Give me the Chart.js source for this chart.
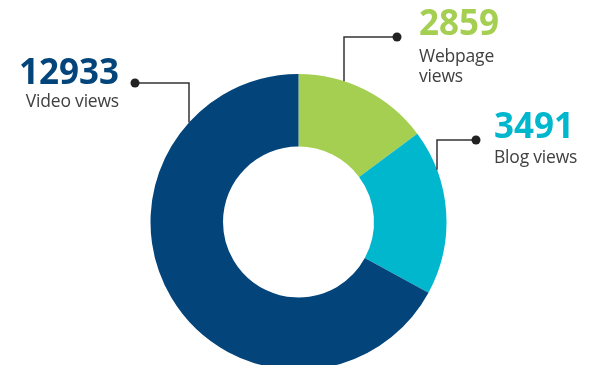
<!DOCTYPE html>
<html>
<head>
<meta charset="utf-8">
<script src="https://cdn.jsdelivr.net/npm/chart.js@4"></script>
<style>
  html, body { margin: 0; padding: 0; background: #fff; overflow: hidden; }
  #wrap { position: relative; width: 597px; height: 380px; }
  .lbl { position: absolute; font-family: "Open Sans", sans-serif; color: #404040; white-space: nowrap; }
  .num { font-weight: 700; font-size: 35px; line-height: 35px; }
  .txt { font-size: 17.5px; line-height: 20px; letter-spacing: -0.2px; }
</style>
</head>
<body>
<div id="wrap">
  <canvas id="views-chart"></canvas>
</div>
<script>
// Views by source
const viewLabels = ["Webpage views", "Blog views", "Video views"];
const viewLines = [["Webpage", "views"], ["Blog views"], ["Video views"]];
const viewCounts = [2859, 3491, 12933];
const viewColors = ["#a4cf50", "#00b7ce", "#03457a"];

// label boxes: number top, text top, anchor x, alignment
const labelBoxes = [
  { x: 419, numTop: 4, txtTop: 45, align: "left" },
  { x: 494, numTop: 106.6, txtTop: 146, align: "left" },
  { x: 119, numTop: 53, txtTop: 90, align: "right" },
];

// leader lines: dot position and x of the vertical drop
const leaders = [
  { dotX: 397, dotY: 37, dropX: 344 },
  { dotX: 476, dotY: 140, dropX: 437 },
  { dotX: 135, dotY: 83, dropX: 189 },
];

const wrap = document.getElementById("wrap");
labelBoxes.forEach((box, i) => {
  const num = document.createElement("div");
  num.className = "lbl num";
  num.style.top = box.numTop + "px";
  num.style.color = viewColors[i];
  num.textContent = String(viewCounts[i]);

  const txt = document.createElement("div");
  txt.className = "lbl txt";
  txt.style.top = box.txtTop + "px";
  txt.innerHTML = viewLines[i].join("<br>");

  [num, txt].forEach((el) => {
    if (box.align === "right") {
      el.style.right = 597 - box.x + "px";
      el.style.textAlign = "right";
    } else {
      el.style.left = box.x + "px";
    }
    wrap.appendChild(el);
  });
});

const leaderLines = {
  id: "leaderLines",
  afterDatasetsDraw(chart) {
    const arc = chart.getDatasetMeta(0).data[0];
    const cx = arc.x;
    const cy = arc.y;
    const r = arc.outerRadius;
    const ctx = chart.ctx;
    ctx.save();
    ctx.strokeStyle = "#333333";
    ctx.fillStyle = "#222222";
    ctx.lineWidth = 1.5;
    leaders.forEach((l) => {
      const endY = cy - Math.sqrt(r * r - (l.dropX - cx) * (l.dropX - cx));
      ctx.beginPath();
      ctx.moveTo(l.dotX, l.dotY);
      ctx.lineTo(l.dropX, l.dotY);
      ctx.lineTo(l.dropX, endY);
      ctx.stroke();
      ctx.beginPath();
      ctx.arc(l.dotX, l.dotY, 4.5, 0, Math.PI * 2);
      ctx.fill();
    });
    ctx.restore();
  },
};

const viewsChart = new Chart(document.getElementById("views-chart"), {
  type: "doughnut",
  data: {
    labels: viewLabels,
    datasets: [
      {
        data: viewCounts,
        backgroundColor: viewColors,
        borderWidth: 0,
      },
    ],
  },
  options: {
    responsive: true,
    maintainAspectRatio: false,
    animation: false,
    cutout: "51%",
    layout: { padding: { top: 74, bottom: 10, left: 0, right: 0 } },
    plugins: {
      legend: { display: false },
      tooltip: { enabled: false },
    },
  },
  plugins: [leaderLines],
});
</script>
</body>
</html>
